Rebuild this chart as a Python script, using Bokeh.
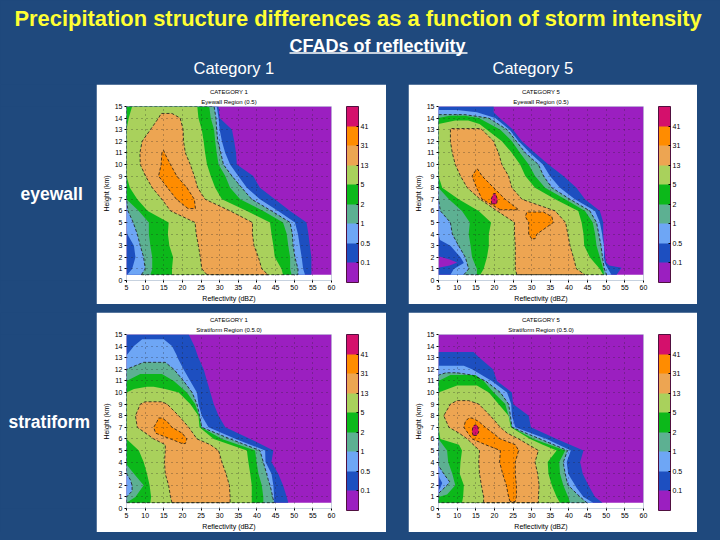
from bokeh.embed import file_html
from bokeh.layouts import column, row
from bokeh.models import (ColorBar, FixedTicker, Label, LinearColorMapper,
                          Range1d, Spacer, Title)
from bokeh.plotting import figure
from bokeh.resources import INLINE

BG = "#1f497d"
FONT = "Liberation Sans"
LEVEL_COLORS = ["#9b1fc0", "#1d4fc0", "#6ea6f5", "#5db092", "#0cb81a", "#a9d15c", "#eda552", "#ff8c00", "#d4106c"]
LEVEL_LABELS = ["0.1", "0.5", "1", "2", "5", "13", "31", "41"]
X_TICKS = [5, 10, 15, 20, 25, 30, 35, 40, 45, 50, 55, 60]
Y_TICKS = list(range(16))
H = [0.5, 1, 2, 3, 4, 5, 6, 7, 8, 9, 10, 11, 12, 13, 14, 15]

# ---- Category 1, eyewall: contour edges (dBZ) against height (km)
A_L01 = [5] * 16
A_R01 = [54.6, 54.6, 54.6, 54.2, 53.8, 53.3, 48.9, 44.8, 40.8, 39, 34.6, 34.4, 33.9, 33.3, 30, 29.7]
A_L05 = [5.2, 6.5, 7.4, 7, 5.2, 5, 5, 5, 5, 5, 5, 5, 5, 5, 5, 5]
A_R05 = [52.9, 52.4, 52, 51.5, 51, 50.2, 45.7, 40.8, 37.3, 35, 32.8, 31.5, 30.6, 30, 29.7, 29.2]
A_L1 = [9, 10, 9.6, 8.7, 7.9, 6.8, 5.4, 5, 5, 5, 5, 5, 5, 5, 5, 5]
A_R1 = [51, 51, 50.2, 49.7, 49.5, 48.9, 43.9, 38.6, 35.9, 33.3, 31, 30.3, 29.5, 29.2, 29, 28.5]
A_L2 = [11.4, 11.9, 11.9, 11.4, 11, 11, 8.3, 5, 5, 5, 5, 5, 5, 5, 5, 5]
A_R2 = [49.3, 48.9, 48.9, 48.4, 48, 47, 41.7, 35.5, 32.8, 31.5, 29.7, 29.2, 28.8, 28.5, 27.6, 27.2]
A_L5 = [17.2, 17.2, 17.5, 16.5, 16.1, 16.3, 10.7, 7.9, 5.9, 5, 5, 5, 5, 5, 5.6, 6.5]
A_R5 = [47, 46.6, 44.8, 44.4, 43.9, 43.5, 37.3, 30.6, 28.8, 27.6, 26.6, 26.1, 25.7, 25.2, 24.3, 24]
A_K13 = [0.5, 1, 2, 3, 4, 5, 6, 7, 8, 9, 10, 11, 12, 13, 14, 14.4]
A_L13 = [26.6, 25.2, 24.8, 24.3, 23.7, 23.4, 16.8, 14.5, 11.9, 10.1, 8.7, 8.6, 9.2, 11.4, 13.6, 14.3]
A_R13 = [43, 41.3, 40.4, 39.2, 38.8, 38.8, 32.8, 26.1, 24.1, 23.2, 22.1, 20.8, 20.3, 20.2, 19.4, 17.2]
A_K31 = [6.2, 7, 8, 9, 10, 11, 11.2]
A_L31 = [21.5, 18.4, 16, 13.6, 14.3, 14.5, 14.9]
A_R31 = [23.5, 23.2, 21.2, 18.5, 16.8, 15.2, 15]

# ---- Category 5, eyewall
B_K01 = [0.5, 1.1, 1.3, 1.55, 1.8, 2.1, 3, 4, 5, 6, 7, 8, 9, 10, 11, 12, 13, 14, 14.5, 15]
B_L01 = [5, 5, 8, 10, 8, 5, 5, 5, 5, 5, 5, 5, 5, 5, 5, 5, 5, 5, 5, 5]
B_R01 = [52.8, 54.1, 50.8, 50, 49.8, 49.7, 49.4, 49.2, 49.2, 48.3, 44.3, 42, 38.5, 34.5, 30.9, 27.4, 25, 21.4, 19.8, 19.8]
B_K05 = [0.5, 1, 1.5, 2, 3, 3.5, 4, 5, 6, 7, 8, 9, 10, 11, 12, 13, 14, 14.5, 14.7]
B_L05 = [8.2, 9.1, 11.8, 10.9, 8.2, 5.4, 5, 5, 5, 5, 5, 5, 5, 5, 5, 5, 5, 5, 5]
B_R05 = [51.4, 50.5, 49.6, 49.4, 49.4, 49.1, 48.9, 48.3, 47, 41.6, 37.6, 34.9, 33, 29.6, 26.5, 24.1, 20.2, 15.3, 10]
B_K1 = [0.5, 1, 2, 3, 4, 5, 6, 7, 8, 9, 10, 11, 12, 13, 14, 14.3]
B_L1 = [11.8, 13.1, 12.2, 10.4, 8.7, 8.2, 5.5, 5, 5, 5, 5, 5, 5, 5, 5, 5]
B_R1 = [50.1, 49.5, 49, 48.6, 48, 47.4, 45.6, 40.3, 35.4, 33.2, 31.8, 28.3, 25.9, 23.4, 18.5, 12]
B_K2 = [0.5, 1, 2, 3, 4, 5, 6, 7, 8, 9, 10, 11, 12, 13, 14, 14.2]
B_L2 = [15.3, 15.3, 14, 13.6, 13.1, 13.4, 11.3, 7.8, 5, 5, 5, 5, 5, 5, 5, 8]
B_R2 = [49.4, 49.2, 48.3, 47.4, 47, 46.4, 44.3, 39, 33.6, 30.9, 29.2, 26.9, 24.7, 21.6, 15.8, 12]
B_K5 = [0.5, 1, 2, 3, 4, 5, 6, 7, 8, 9, 10, 11, 12, 13, 13.5, 13.8]
B_L5 = [16.2, 17.1, 18, 18.5, 18.5, 19.1, 15.8, 10.4, 6, 5, 5, 5, 5, 5, 5, 9.5]
B_R5 = [49.2, 48.3, 45.6, 44.1, 43.9, 43.4, 42.5, 36.3, 30.9, 28.3, 26.9, 24.7, 22, 18, 16, 13]
B_K13 = [0.5, 1, 2, 3, 4, 5, 6, 7, 8, 9, 10, 11, 12, 13, 13.1]
B_L13 = [26, 25.6, 25.6, 25.6, 25.4, 25.4, 20.7, 16.2, 12.7, 10.9, 9.5, 8.7, 8.2, 8.2, 8.2]
B_R13 = [44.3, 42, 41.2, 40.3, 39.7, 39.1, 36.3, 27.4, 24.7, 23.8, 22, 21.1, 19.8, 16.7, 16.2]
B_K31A = [6.1, 7, 8, 9, 9.6]
B_L31A = [21.6, 16.7, 15.2, 14, 15.2]
B_R31A = [26.5, 22.9, 19.8, 16.7, 15.5]
B_K31B = [3.6, 4, 5, 5.5, 5.9]
B_L31B = [30, 29.2, 29.2, 28.3, 28.7]
B_R31B = [30.9, 31.4, 35.8, 35.4, 33.2]
B_K41 = [6.6, 7, 7.5]
B_L41 = [19.3, 19.1, 19.8]
B_R41 = [20.6, 20.8, 20.3]

# ---- Category 1, stratiform
C_L01 = [5] * 16
C_R01 = [48.4, 48, 47, 45.7, 43.9, 44.4, 38.2, 31.5, 29.7, 28.4, 27.5, 26.6, 25.7, 24.3, 23.2, 21.7]
C_K05 = [0.5, 1, 2, 3, 4, 5, 6, 7, 8, 9, 10, 11, 12, 13, 13.2, 14, 14.6]
C_L05 = [5, 5, 5, 5, 5, 5, 5, 5, 5, 5, 5, 5, 5, 5, 5, 7, 9.2]
C_R05 = [44.6, 44.6, 44.4, 43.9, 42.3, 42.2, 34.3, 27, 25.2, 24.3, 23.9, 22.1, 20.3, 18.7, 18.5, 17.2, 15]
C_K1 = [0.5, 1, 1.5, 2, 2.5, 3, 4, 5, 6, 7, 8, 9, 10, 11, 12, 12.6]
C_L1 = [5, 5, 6.5, 6.5, 6, 5, 5, 5, 5, 5, 5, 5, 5, 5, 5, 9.6]
C_R1 = [44.6, 44.2, 43.9, 43.5, 43, 42.6, 41.7, 40.8, 32.8, 25.2, 24.6, 23.9, 22.6, 20.3, 17.7, 15.4]
C_K2 = [0.5, 1, 2, 3, 3.8, 4, 5, 6, 7, 8, 9, 10, 11, 11.6]
C_L2 = [5, 7.4, 9.6, 7, 5, 5, 5, 5, 5, 5, 5, 5, 5, 8.7]
C_R2 = [41.7, 41.7, 41.3, 40.4, 40, 39.9, 39.5, 30.6, 25, 24.5, 23.4, 21.2, 17.7, 14.5]
C_K5 = [0.5, 1, 2, 3, 4, 5, 6, 7, 8, 9, 10, 10.3, 10.5]
C_L5 = [11.4, 11.6, 11.2, 10.5, 9.6, 8.3, 5, 5, 5, 5, 5, 7, 10.5]
C_R5 = [38.6, 38.6, 38.6, 38.2, 37.7, 37.3, 28.4, 24.6, 24.3, 22.1, 19, 15.4, 12.3]
C_K13 = [0.5, 1, 2, 3, 4, 5, 5.5, 6, 7, 8, 9, 9.2]
C_L13 = [17.2, 16.8, 16.3, 15.4, 15.2, 15.4, 15.4, 12.3, 7.9, 7.4, 8.7, 10]
C_R13 = [32.8, 32.8, 32.6, 31.7, 30.6, 29.7, 27.5, 23.9, 21.7, 19, 15.9, 14.5]
C_K31 = [5.6, 6, 6.5, 7, 7.5, 7.8]
C_L31 = [19.9, 16.8, 12.8, 12.3, 13.2, 13.6]
C_R31 = [20.8, 21.2, 19.9, 17.2, 15.9, 14.5]

# ---- Category 5, stratiform
D_K01 = [0.5, 1, 2, 3, 4, 5, 6, 7, 8, 9, 10, 11, 12, 13, 13.5]
D_L01 = [5] * 15
D_R01 = [49, 47, 45.2, 43.7, 43, 43.9, 36.7, 29.8, 29.2, 25, 24.7, 20.7, 19.6, 16, 14.4]
D_K05 = [0.5, 1, 1.5, 1.8, 2.2, 2.6, 3, 4, 5, 6, 7, 8, 9, 10, 11, 12, 12.3]
D_L05 = [5, 5, 5, 5.5, 6, 5.3, 5, 5, 5, 5, 5, 5, 5, 5, 5, 5, 5]
D_R05 = [46.5, 43.9, 42.7, 42, 41.3, 40.5, 39.8, 39.4, 40.5, 34, 25.6, 24.7, 24.5, 23.4, 19.3, 14, 11.8]
D_K1 = [0.5, 1, 1.3, 2, 2.3, 3, 3.7, 4, 5, 6, 7, 8, 9, 10, 11, 11.5, 11.7]
D_L1 = [5, 5, 5, 7.3, 8, 6.4, 5, 5, 5, 5, 5, 5, 5, 5, 5, 5, 7]
D_R1 = [44.8, 43, 42, 39.8, 39.5, 39, 38.6, 38.5, 39.6, 32.2, 24.7, 24.3, 23.8, 21.6, 17.6, 14, 10]
D_K2 = [0.5, 1, 1.2, 2, 3, 4, 5, 6, 7, 8, 9, 10, 11, 11.5]
D_L2 = [5, 5, 7.3, 9.5, 8.7, 7.6, 7.3, 5, 5, 5, 5, 5, 5, 8.2]
D_R2 = [40.3, 39.8, 39.5, 38.5, 37.6, 37.4, 39, 30.5, 24.7, 23.8, 22.9, 19.8, 17.1, 14.9]
D_K5 = [0.5, 1, 2, 3, 4, 5, 5.5, 6, 7, 8, 9, 10, 10.6]
D_L5 = [11.3, 11.6, 11.8, 10.7, 10.9, 11.3, 10.5, 5.5, 5, 5, 5, 5, 10]
D_R5 = [37.6, 36.7, 35.4, 34.5, 34.3, 36.7, 33, 29.6, 24.4, 23.8, 21.1, 18.5, 15.3]
D_K13 = [0.5, 1, 2, 3, 4, 5, 6, 6.5, 7, 8, 9, 9.3]
D_L13 = [17.1, 17.1, 16.5, 16, 15.8, 16, 12.7, 10.5, 7.8, 6.4, 8.2, 10]
D_R13 = [31.8, 31.8, 32, 31.6, 30.9, 31.8, 26.5, 23.4, 21.6, 18.9, 15.8, 13.1]
D_K31 = [0.6, 1, 2, 3, 4, 5, 5.5, 6, 7, 7.5, 7.8]
D_L31 = [24.2, 23.8, 23.2, 22.2, 21.4, 21.6, 17.6, 14, 11.8, 12.2, 13.1]
D_R31 = [25.6, 25.9, 25.9, 25.6, 25.6, 26.5, 25.6, 21.6, 17.6, 15.8, 14]
D_K41 = [6.3, 6.6, 7, 7.2]
D_L41 = [14.3, 14, 14.2, 14.7]
D_R41 = [15.3, 15.8, 15.6, 15.3]

PANEL_A = [(1, H, A_L01, A_R01), (2, H, A_L05, A_R05), (3, H, A_L1, A_R1), (4, H, A_L2, A_R2),
           (5, H, A_L5, A_R5), (6, A_K13, A_L13, A_R13), (7, A_K31, A_L31, A_R31)]
PANEL_B = [(1, B_K01, B_L01, B_R01), (2, B_K05, B_L05, B_R05), (3, B_K1, B_L1, B_R1), (4, B_K2, B_L2, B_R2),
           (5, B_K5, B_L5, B_R5), (6, B_K13, B_L13, B_R13), (7, B_K31A, B_L31A, B_R31A),
           (7, B_K31B, B_L31B, B_R31B), (8, B_K41, B_L41, B_R41)]
PANEL_C = [(1, H, C_L01, C_R01), (2, C_K05, C_L05, C_R05), (3, C_K1, C_L1, C_R1), (4, C_K2, C_L2, C_R2),
           (5, C_K5, C_L5, C_R5), (6, C_K13, C_L13, C_R13), (7, C_K31, C_L31, C_R31)]
PANEL_D = [(1, D_K01, D_L01, D_R01), (2, D_K05, D_L05, D_R05), (3, D_K1, D_L1, D_R1), (4, D_K2, D_L2, D_R2),
           (5, D_K5, D_L5, D_R5), (6, D_K13, D_L13, D_R13), (7, D_K31, D_L31, D_R31), (8, D_K41, D_L41, D_R41)]
X_EDGES = [5, 60]
Y_EDGES = [0.5, 15]
CONTOURED = {3, 6, 7, 8}


def text_panel(w, h, texts, rules=()):
    p = figure(width=w, height=h, x_range=Range1d(0, w), y_range=Range1d(h, 0),
               x_axis_type=None, y_axis_type=None, toolbar_location=None, output_backend="svg",
               background_fill_color=BG, border_fill_color=BG, outline_line_color=None,
               min_border=0)
    p.grid.visible = False
    for x, y, text, size, style, color in texts:
        p.add_layout(Label(x=x, y=y, text=text, text_font=FONT, text_font_size=size,
                           text_font_style=style, text_color=color,
                           text_baseline="middle", text_align="left"))
    for x0, x1, y, color in rules:
        p.segment([x0], [y], [x1], [y], line_color=color, line_width=1.5)
    return p


def panel(regions, line1, line2, width):
    p = figure(width=width, height=220, x_range=Range1d(5, 60), y_range=Range1d(0, 15),
               toolbar_location=None, output_backend="svg", background_fill_color="white",
               border_fill_color="white", outline_line_color=None,
               min_border_left=30, min_border_right=width - 235, min_border_top=22, min_border_bottom=23)
    p.quad(left=[X_EDGES[0]], right=[X_EDGES[1]], bottom=[Y_EDGES[0]], top=[Y_EDGES[1]],
           fill_color=LEVEL_COLORS[0], line_color=None)
    for lvl, km, left, right in regions:
        xs = list(left) + list(right)[::-1]
        ys = list(km) + list(km)[::-1]
        p.patch(xs, ys, fill_color=LEVEL_COLORS[lvl], line_color=None)
    for lvl, km, left, right in regions:
        if lvl in CONTOURED:
            xs = list(left) + list(right)[::-1] + [left[0]]
            ys = list(km) + list(km)[::-1] + [km[0]]
            p.line(xs, ys, line_color="#1a1a1a", line_width=0.8, line_dash=[3, 2])
    p.xaxis.ticker = FixedTicker(ticks=X_TICKS)
    p.yaxis.ticker = FixedTicker(ticks=Y_TICKS)
    for ax, label in ((p.xaxis[0], "Reflectivity (dBZ)"), (p.yaxis[0], "Height (km)")):
        ax.axis_label = label
        ax.axis_label_text_font = FONT
        ax.axis_label_text_font_size = "7px"
        ax.axis_label_text_font_style = "normal"
        ax.axis_label_text_color = "black"
        ax.axis_label_standoff = 2
        ax.major_label_text_font = FONT
        ax.major_label_text_font_size = "7px"
        ax.major_label_text_color = "black"
        ax.major_label_standoff = 2
        ax.major_tick_out = 2
        ax.major_tick_in = 0
        ax.minor_tick_line_color = None
        ax.axis_line_color = None
    p.grid.grid_line_color = "#222222"
    p.grid.grid_line_alpha = 0.7
    p.grid.grid_line_dash = [1, 4]
    p.grid.grid_line_width = 0.8
    p.grid.level = "overlay"
    mapper = LinearColorMapper(palette=LEVEL_COLORS, low=0, high=9)
    bar = ColorBar(color_mapper=mapper, ticker=FixedTicker(ticks=list(range(1, 9))),
                   major_label_overrides={i + 1: t for i, t in enumerate(LEVEL_LABELS)},
                   location=(220, -2), width=12, height=176, padding=0, margin=0,
                   background_fill_color=None, bar_line_color="#50103f", border_line_color=None,
                   major_tick_line_color="black", major_tick_in=2, major_tick_out=0,
                   major_label_text_font=FONT, major_label_text_font_size="7px",
                   major_label_text_color="black", label_standoff=2)
    p.add_layout(bar, "center")
    p.add_layout(Title(text=line2, align="center", text_font=FONT, text_font_size="6px",
                       text_color="black", text_font_style="normal", standoff=4), "above")
    p.add_layout(Title(text=line1, align="center", text_font=FONT, text_font_size="6px",
                       text_color="black", text_font_style="normal", standoff=0), "above")
    return p


header = text_panel(720, 84, [
    (14, 18, "Precipitation structure differences as a function of storm intensity", "21.9px", "bold", "#ffff33"),
    (289, 45, "CFADs of reflectivity", "18px", "bold", "white"),
    (193, 67, "Category 1", "16.5px", "normal", "white"),
    (492, 67, "Category 5", "16.5px", "normal", "white"),
], rules=[(289, 467, 52.5, "white")])
left1 = text_panel(96, 220, [(20, 111, "eyewall", "17.5px", "bold", "white")])
left2 = text_panel(96, 220, [(8, 111, "stratiform", "17.5px", "bold", "white")])

fig_a = panel(PANEL_A, "CATEGORY 1", "Eyewall Region (0.5)", 290)
fig_b = panel(PANEL_B, "CATEGORY 5", "Eyewall Region (0.5)", 289)
fig_c = panel(PANEL_C, "CATEGORY 1", "Stratiform Region (0.5.0)", 290)
fig_d = panel(PANEL_D, "CATEGORY 5", "Stratiform Region (0.5.0)", 289)

page = column(
    header,
    row(left1, fig_a, Spacer(width=22, height=220), fig_b),
    Spacer(width=720, height=8),
    row(left2, fig_c, Spacer(width=22, height=220), fig_d),
)
html = file_html(page, INLINE).replace("<head>", "<head><style>html,body{background:%s}</style>" % BG, 1)
open("out.html", "w").write(html)
